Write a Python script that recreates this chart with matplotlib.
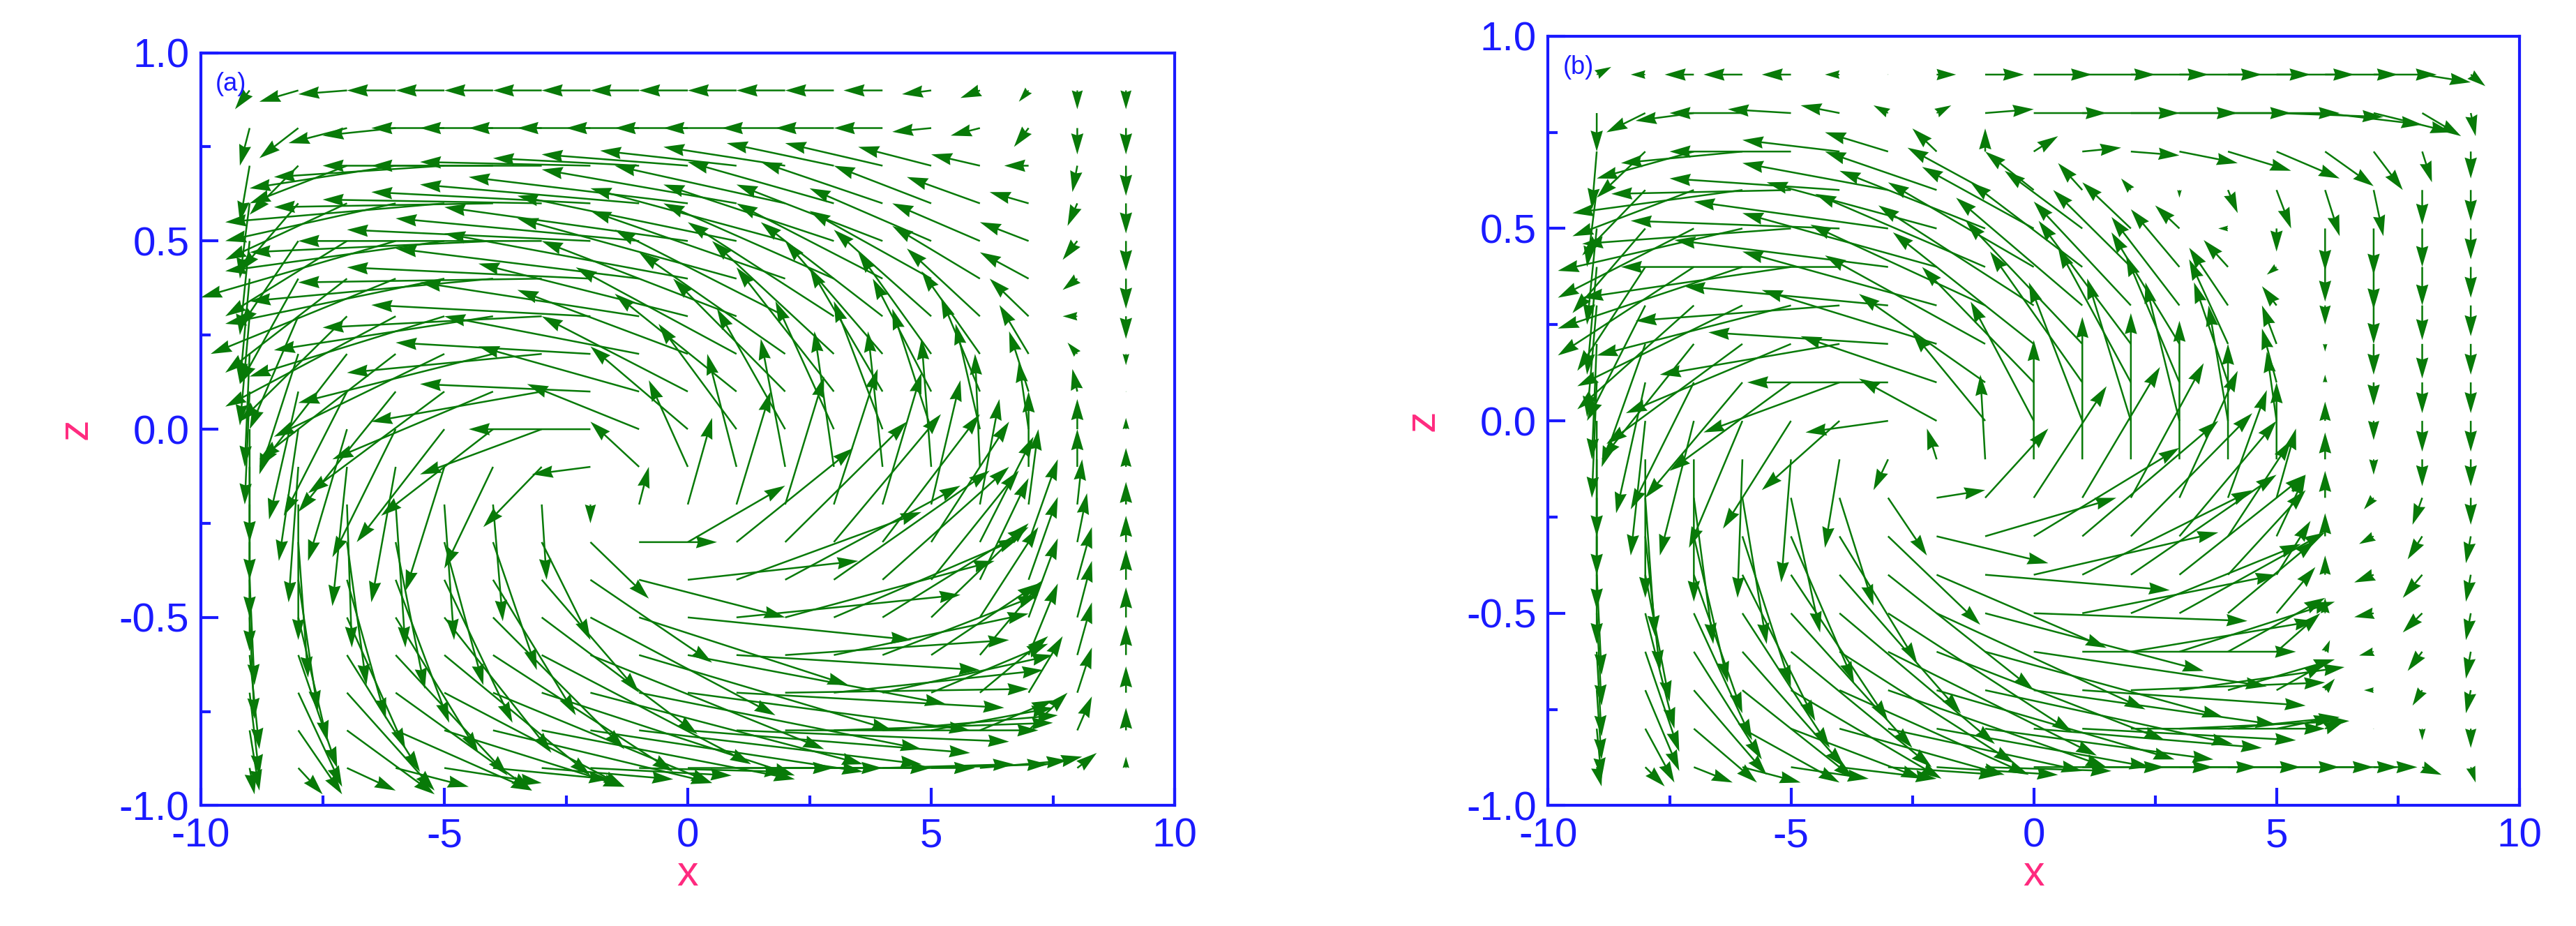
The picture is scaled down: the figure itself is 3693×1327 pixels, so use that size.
import numpy as np
import matplotlib
matplotlib.use("Agg")
import matplotlib.pyplot as plt
from matplotlib.ticker import MultipleLocator

x_vals = [-9,-8,-7,-6,-5,-4,-3,-2,-1,0,1,2,3,4,5,6,7,8,9]
z_vals = [0.9,0.8,0.7,0.6,0.5,0.4,0.3,0.2,0.1,0.0,-0.1,-0.2,-0.3,-0.4,-0.5,-0.6,-0.7,-0.8,-0.9]

# panel (a): u in x units, w in 0.1 z units
Ua = [
[-0.3,-0.8,-1,-1,-1,-1,-1,-1,-1,-1,-1,-1,-1,-0.8,-0.6,-0.4,-0.2,0,0],
[-0.2,-0.8,-1.2,-1.5,-1.5,-1.5,-1.5,-1.5,-1.5,-1.5,-1.5,-1.3,-1.2,-1,-0.8,-0.6,-0.3,0,0],
[-0.2,-1,-2,-3,-3.5,-3.5,-3.5,-3.5,-3,-3,-2.8,-2.5,-2.2,-2,-1.5,-1,-0.5,-0.1,0],
[-0.2,-1.2,-2.5,-3.5,-4.5,-4.5,-4.5,-4.5,-4.5,-4.5,-4,-3.5,-3,-2.5,-2,-1.5,-0.8,-0.2,0],
[-0.2,-1.2,-2.5,-4,-4.5,-5,-5,-5,-5,-5,-4.5,-4,-3.5,-3,-2.5,-1.8,-1,-0.3,0],
[-0.2,-1.2,-2.5,-3.8,-4.5,-5,-5,-5,-5,-5,-4.5,-4,-3.5,-3,-2.5,-1.8,-1,-0.3,0],
[-0.2,-1,-2.2,-3.5,-4,-4.5,-4.5,-4.5,-4.5,-4.3,-4,-3.5,-3,-2.5,-2,-1.5,-0.8,-0.3,0],
[-0.1,-0.8,-1.8,-2.8,-3.5,-4,-4,-4,-4,-3.5,-3.3,-3,-2.5,-2,-1.5,-1.2,-0.6,-0.2,0],
[-0.1,-0.6,-1.3,-2,-2.8,-3.3,-3.5,-3.5,-3.3,-3,-2.5,-2.3,-2,-1.5,-1.2,-0.8,-0.4,-0.1,0],
[0,-0.4,-0.8,-1.3,-1.8,-2.3,-2.5,-2.5,-2.3,-2,-1.6,-1.4,-1.2,-1,-0.8,-0.5,-0.2,0,0],
[0,-0.2,-0.3,-0.5,-0.8,-1,-1.2,-1.2,-1,-0.8,-0.6,-0.5,-0.4,-0.3,-0.2,-0.1,0,0,0],
[0,0,0.1,0.2,0.2,0.2,0.1,0,0.2,0.5,0.7,0.8,0.9,0.8,0.6,0.4,0.2,0.1,0],
[0,0.2,0.4,0.6,0.8,0.9,1,1.2,1.6,2,2.4,2.5,2.2,2,1.6,1.1,0.6,0.2,0],
[0.1,0.4,0.8,1.1,1.4,1.7,2,2.5,3,3.5,3.8,3.6,3.2,2.6,1.8,1,0.6,0.3,0],
[0.1,0.6,1.2,1.7,2.2,2.7,3.2,3.8,4.3,4.6,4.6,4.3,3.8,3,2,1.2,0.6,0.3,0],
[0.2,0.8,1.5,2.3,3,3.7,4.3,4.8,5.2,5.3,5,4.6,4,3.2,2.2,1.3,0.6,0.3,0],
[0.2,0.9,1.8,2.8,3.7,4.5,5.2,5.6,5.8,5.8,5.5,5,4.3,3.5,2.4,1.4,0.7,0.3,0],
[0.2,0.9,1.8,2.8,3.7,4.5,5.2,5.6,5.8,5.8,5.6,5.2,4.5,3.6,2.5,1.5,0.8,0.3,0],
[0.1,0.5,1,1.5,2,2.4,2.7,2.9,3,3,3,3,2.9,2.7,2.4,1.8,1.1,0.4,0],
]
Wa = [
[-0.5,-0.3,-0.1,0,0,0,0,0,0,0,0,0,0,0,-0.1,-0.2,-0.3,-0.5,-0.5],
[-1,-0.8,-0.4,-0.2,0,0,0,0,0,0,0,0,0,0,-0.1,-0.2,-0.5,-0.7,-0.7],
[-1.5,-1.3,-1,-0.6,-0.3,0,0,0.1,0.2,0.3,0.4,0.5,0.6,0.6,0.5,0.3,0,-0.7,-0.8],
[-2,-1.8,-1.5,-1,-0.5,-0.1,0.1,0.3,0.5,0.7,0.9,1,1.1,1.1,1,0.7,0.3,-0.6,-0.8],
[-2.5,-2.3,-2,-1.5,-0.8,-0.3,0,0.3,0.6,0.9,1.2,1.4,1.5,1.5,1.4,1,0.5,-0.5,-0.8],
[-2.8,-2.8,-2.5,-2,-1.2,-0.6,-0.1,0.3,0.8,1.2,1.6,1.8,2,2,1.8,1.4,0.7,-0.3,-0.8],
[-2.9,-3,-2.8,-2.4,-1.6,-0.9,-0.3,0.3,0.9,1.4,2,2.3,2.5,2.5,2.3,1.8,1,0,-0.6],
[-3,-3.2,-3,-2.8,-2.2,-1.3,-0.5,0.3,1,1.7,2.3,2.7,3,3,2.7,2.2,1.3,0.3,-0.3],
[-3,-3.4,-3.3,-3.2,-2.7,-1.8,-0.8,0.2,1.2,2,2.6,3,3.3,3.3,3,2.5,1.6,0.6,0],
[-3,-3.5,-3.5,-3.4,-3,-2.3,-1.2,0,1.2,2.2,2.8,3.2,3.4,3.4,3.2,2.8,1.8,0.8,0.3],
[-3,-3.6,-3.7,-3.6,-3.3,-2.7,-1.6,-0.2,1.2,2.3,3,3.4,3.6,3.6,3.4,3,2,1,0.5],
[-3,-3.6,-3.8,-3.8,-3.6,-3.1,-2,-0.5,1,2.3,3,3.4,3.6,3.5,3.3,2.8,2,1.2,0.6],
[-2.9,-3.6,-3.8,-3.9,-3.8,-3.4,-2.6,-1.5,0,1.5,2.5,3.2,3.4,3.4,3.2,2.8,2.2,1.3,0.7],
[-2.8,-3.5,-3.7,-3.8,-3.8,-3.6,-3,-2.2,-1,0.5,1.8,2.5,2.9,3,2.9,2.7,2.2,1.4,0.8],
[-2.7,-3.3,-3.5,-3.6,-3.6,-3.5,-3.1,-2.6,-1.8,-0.6,0.6,1.5,2.1,2.4,2.5,2.4,2.1,1.5,0.8],
[-2.5,-3,-3.1,-3.2,-3.2,-3.1,-2.9,-2.5,-2,-1.3,-0.4,0.4,1.1,1.6,1.9,2,1.9,1.4,0.8],
[-2.2,-2.5,-2.6,-2.6,-2.5,-2.4,-2.2,-1.9,-1.5,-1,-0.4,0.1,0.6,1,1.3,1.5,1.5,1.2,0.7],
[-1.6,-1.7,-1.7,-1.6,-1.5,-1.4,-1.3,-1.1,-0.9,-0.6,-0.3,0,0.2,0.4,0.6,0.8,1,0.9,0.6],
[-0.7,-0.7,-0.6,-0.5,-0.4,-0.3,-0.3,-0.2,-0.1,0,0,0,0,0.1,0.1,0.2,0.3,0.4,0.3],
]

# panel (b)
Ub = [
[0.3,-0.3,-0.6,-0.8,-0.6,-0.3,0,0.4,0.8,1.2,1.5,1.6,1.7,1.7,1.6,1.5,1.3,1,0.3],
[0,-0.8,-1.2,-1.5,-1.3,-0.8,-0.3,0.3,1,1.5,2,2.2,2.3,2.3,2.2,2,1.6,0.8,0.1],
[-0.1,-1,-2,-2.5,-2.5,-2,-1.3,-0.5,0,0.5,0.8,1,1.2,1.3,1.3,1,0.6,0.2,0],
[-0.2,-1.3,-2.5,-3.5,-3.7,-3.5,-3,-2.3,-1.6,-1,-0.5,-0.2,0,0.2,0.3,0.3,0.2,0,0],
[-0.2,-1.5,-2.8,-3.8,-4.3,-4.3,-4,-3.5,-3,-2.3,-1.6,-1,-0.5,-0.2,0,0,0,0,0],
[-0.2,-1.4,-2.8,-3.8,-4.3,-4.5,-4.4,-4,-3.5,-3,-2.3,-1.6,-1,-0.5,-0.2,0,0,0,0],
[-0.2,-1.2,-2.4,-3.4,-4,-4.2,-4.2,-4,-3.6,-3.2,-2.6,-2,-1.4,-0.8,-0.3,0,0,0,0],
[-0.1,-0.9,-1.9,-2.8,-3.4,-3.7,-3.7,-3.6,-3.3,-2.9,-2.4,-1.9,-1.4,-0.8,-0.3,0,0,0,0],
[-0.1,-0.6,-1.3,-2,-2.5,-2.8,-2.9,-2.8,-2.6,-2.3,-1.9,-1.5,-1.1,-0.7,-0.3,0,0,0,0],
[0,-0.3,-0.7,-1.1,-1.4,-1.6,-1.7,-1.6,-1.5,-1.3,-1.1,-0.9,-0.7,-0.4,-0.2,0,0,0,0],
[0,0,0,-0.1,-0.2,-0.3,-0.3,-0.2,-0.1,0,0,0,0,0,0,0,0,0,0],
[0,0.2,0.4,0.5,0.6,0.7,0.8,1,1.3,1.5,1.6,1.5,1.2,0.8,0.4,0,-0.2,-0.2,0],
[0,0.3,0.7,1,1.3,1.6,1.9,2.3,2.7,3,2.8,2.5,2,1.3,0.6,0,-0.3,-0.3,-0.1],
[0.1,0.5,1,1.5,2,2.5,3,3.5,3.8,3.8,3.5,3,2.6,1.6,0.7,0,-0.4,-0.4,-0.1],
[0.1,0.6,1.2,1.8,2.5,3.2,3.8,4.3,4.5,4.4,4,3.5,3,1.8,0.8,0,-0.4,-0.4,-0.1],
[0.1,0.7,1.4,2.1,2.9,3.6,4.3,4.7,4.9,4.8,4.4,3.8,3.2,2,0.9,0.1,-0.3,-0.3,-0.1],
[0.1,0.7,1.5,2.3,3.1,3.9,4.5,4.9,5.1,5,4.6,4,3.4,2.2,1,0.2,-0.2,-0.2,-0.1],
[0.1,0.6,1.3,2,2.7,3.4,4,4.4,4.7,4.7,4.4,4,3.5,2.3,1.2,0.4,0,0,0],
[0.1,0.4,0.8,1.2,1.6,2,2.3,2.5,2.6,2.7,2.7,2.6,2.5,2.3,2,1.5,0.9,0.4,0.1],
]
Wb = [
[0.2,0,0,0,0,0,0,0,0,0,0,0,0,0,0,0,0,-0.2,-0.3],
[-1,-0.5,-0.2,0,0.1,0.2,0.2,0.2,0.1,0,0,0,0,0,-0.1,-0.3,-0.5,-0.6,-0.6],
[-1.5,-1.2,-0.7,-0.3,0,0.3,0.5,0.6,0.6,0.4,0.1,-0.1,-0.3,-0.5,-0.7,-0.9,-1,-0.8,-0.7],
[-2,-1.7,-1.2,-0.6,-0.1,0.3,0.7,1,1.1,1,0.7,0.3,-0.2,-0.6,-1,-1.2,-1.2,-0.9,-0.8],
[-2.5,-2.2,-1.8,-1.1,-0.4,0.2,0.7,1.2,1.5,1.6,1.5,1.2,0.6,0,-0.6,-1.1,-1.2,-1,-0.8],
[-2.8,-2.7,-2.3,-1.6,-0.8,0,0.7,1.4,1.9,2.2,2.2,2,1.5,0.7,-0.2,-0.9,-1.1,-1,-0.8],
[-2.9,-3,-2.7,-2.1,-1.3,-0.4,0.5,1.4,2.1,2.6,2.8,2.7,2.3,1.5,0.5,-0.5,-1,-0.9,-0.8],
[-3,-3.2,-3,-2.6,-1.8,-0.8,0.3,1.4,2.3,2.9,3.2,3.2,2.9,2.2,1,-0.2,-0.8,-0.9,-0.8],
[-3,-3.4,-3.3,-3,-2.3,-1.3,0,1.2,2.3,3,3.4,3.5,3.3,2.6,1.4,0.2,-0.6,-0.8,-0.8],
[-3,-3.5,-3.5,-3.3,-2.8,-1.8,-0.3,1.1,2.3,3.1,3.6,3.7,3.6,3,1.8,0.5,-0.5,-0.8,-0.8],
[-3,-3.6,-3.7,-3.6,-3.2,-2.3,-0.8,0.8,2.2,3.1,3.7,3.8,3.6,3,2,0.7,-0.4,-0.7,-0.7],
[-2.9,-3.6,-3.8,-3.8,-3.5,-2.8,-1.5,0.2,1.8,2.9,3.4,3.5,3.3,2.8,1.8,0.7,-0.3,-0.7,-0.7],
[-2.8,-3.5,-3.8,-3.9,-3.8,-3.3,-2.3,-0.7,1,2.3,3,3.2,3,2.5,1.6,0.6,-0.2,-0.6,-0.7],
[-2.6,-3.3,-3.6,-3.8,-3.8,-3.6,-3,-1.9,-0.4,1.1,2.2,2.6,2.6,2.2,1.4,0.5,-0.2,-0.6,-0.7],
[-2.4,-3,-3.3,-3.5,-3.5,-3.4,-3.1,-2.5,-1.5,-0.2,1,1.8,2.1,1.9,1.2,0.4,-0.1,-0.5,-0.7],
[-2.2,-2.6,-2.8,-3,-3,-2.9,-2.7,-2.3,-1.7,-0.9,0,0.8,1.3,1.4,1,0.3,-0.1,-0.5,-0.7],
[-1.8,-2.1,-2.2,-2.3,-2.3,-2.2,-2,-1.8,-1.4,-0.9,-0.4,0.2,0.6,0.8,0.7,0.3,0,-0.4,-0.6],
[-1.3,-1.4,-1.4,-1.4,-1.3,-1.2,-1.1,-1,-0.8,-0.5,-0.3,0,0.2,0.3,0.3,0.2,0,-0.3,-0.5],
[-0.5,-0.5,-0.4,-0.4,-0.3,-0.3,-0.2,-0.2,-0.1,0,0,0,0,0,0,0,0,-0.2,-0.4],
]

x_ticks = [-10, -5, 0, 5, 10]
z_ticks = [-1.0, -0.5, 0.0, 0.5, 1.0]
panel_labels = ["(a)", "(b)"]

BLUE = "#1a1aff"
PINK = "#ff2a7f"
GREEN = "#087a08"
FONT = "Liberation Sans"

fig = plt.figure(figsize=(18.465, 6.635), dpi=200)
rects = [[0.078, 0.13, 0.378, 0.813], [0.601, 0.13, 0.377, 0.831]]
X, Z = np.meshgrid(np.array(x_vals, float), np.array(z_vals, float))
for rect, U, W, lab in zip(rects, [Ua, Ub], [Wa, Wb], panel_labels):
    ax = fig.add_axes(rect)
    ax.quiver(X, Z, np.array(U), np.array(W) / 10.0, angles="xy",
              scale_units="xy", scale=1, color=GREEN, width=0.0018,
              headwidth=7, headlength=12, headaxislength=11, minlength=0.3)
    ax.set_xlim(-10, 10)
    ax.set_ylim(-1, 1)
    ax.set_xticks(x_ticks)
    ax.set_yticks(z_ticks)
    ax.set_xticklabels([str(t) for t in x_ticks])
    ax.set_yticklabels([f"{t:.1f}" for t in z_ticks])
    ax.xaxis.set_minor_locator(MultipleLocator(2.5))
    ax.yaxis.set_minor_locator(MultipleLocator(0.25))
    for s in ax.spines.values():
        s.set_color(BLUE)
        s.set_linewidth(1.5)
    ax.tick_params(which="both", direction="in", colors=BLUE, width=1.5,
                   labelsize=21, labelcolor=BLUE, pad=6)
    ax.tick_params(which="major", length=9)
    ax.tick_params(which="minor", length=5)
    for t in ax.get_xticklabels() + ax.get_yticklabels():
        t.set_fontfamily(FONT)
    ax.set_xlabel("x", color=PINK, fontsize=22, family=FONT, labelpad=0)
    ax.set_ylabel("z", color=PINK, fontsize=22, family=FONT, labelpad=12)
    ax.text(0.015, 0.975, lab, transform=ax.transAxes, color=BLUE,
            fontsize=13, family=FONT, va="top", ha="left")

fig.savefig("out.png", dpi=200)
